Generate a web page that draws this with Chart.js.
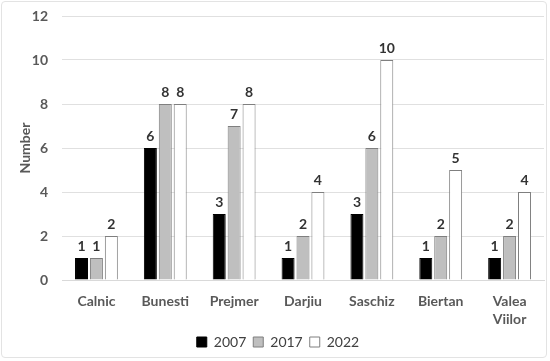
<!DOCTYPE html>
<html><head><meta charset="utf-8">
<script src="https://cdn.jsdelivr.net/npm/chart.js@4"></script>
<style>
html,body{margin:0;padding:0;background:#fff;}
#wrap{position:absolute;left:1px;top:1px;width:546px;height:357px;border:1px solid #e3e3e3;border-radius:4px;box-sizing:border-box;}
canvas{display:block;}
</style></head><body>
<div id="wrap"><canvas id="c" width="546" height="357"></canvas></div>
<script>
const categories = ["Calnic","Bunesti","Prejmer","Darjiu","Saschiz","Biertan",["Valea","Viilor"]];
const seriesNames = ["2007","2017","2022"];
const values2007 = [1,6,3,1,3,1,1];
const values2017 = [1,8,7,2,6,2,2];
const values2022 = [2,8,8,4,10,5,4];
const yTicks = [0,2,4,6,8,10,12];
const FONT = 'Lato, "Open Sans", sans-serif';

const labelPlugin = {
  id:'valLabels',
  afterDatasetsDraw(chart){
    const ctx = chart.ctx;
    ctx.save();
    ctx.font = 'bold 14px ' + FONT;
    ctx.fillStyle = '#333333';
    ctx.textAlign = 'center';
    ctx.textBaseline = 'bottom';
    chart.data.datasets.forEach((ds,i)=>{
      chart.getDatasetMeta(i).data.forEach((bar,j)=>{
        ctx.fillText(String(ds.data[j]), bar.x, bar.y - 5);
      });
    });
    ctx.restore();
  }
};

new Chart(document.getElementById('c'),{
  type:'bar',
  data:{
    labels:categories,
    datasets:[
      {label:seriesNames[0],data:values2007,backgroundColor:'#000000',borderColor:'#000000',borderWidth:1},
      {label:seriesNames[1],data:values2017,backgroundColor:'#bfbfbf',borderColor:'#7f7f7f',borderWidth:1},
      {label:seriesNames[2],data:values2022,backgroundColor:'#ffffff',borderColor:'#7f7f7f',borderWidth:1}
    ]
  },
  options:{
    responsive:false,
    animation:false,
    devicePixelRatio:1,
    layout:{padding:{top:0,right:4,left:10,bottom:0}},
    datasets:{bar:{categoryPercentage:0.65,barPercentage:0.87}},
    plugins:{
      legend:{position:'bottom',labels:{boxWidth:10,boxHeight:10,color:'#404040',font:{size:14,family:FONT},padding:7}},
      tooltip:{enabled:false}
    },
    scales:{
      x:{
        grid:{display:false},
        border:{color:'#d9d9d9'},
        afterFit(s){s.height = 48;},
        ticks:{color:'#595959',font:{size:14,weight:'bold',family:FONT,lineHeight:1.3},maxRotation:0,autoSkip:false,padding:4}
      },
      y:{
        min:0,max:12,
        afterBuildTicks(s){s.ticks = yTicks.map(v=>({value:v}));},
        afterFit(s){s.width = 50; s.paddingTop = 14;},
        grid:{color:'#e0e0e0',drawTicks:false},
        border:{display:false},
        ticks:{color:'#595959',font:{size:14,weight:'bold',family:FONT},padding:14},
        title:{display:true,text:'Number',color:'#595959',font:{size:14,weight:'bold',family:FONT},padding:{top:5,bottom:0}}
      }
    }
  },
  plugins:[labelPlugin]
});
</script>
</body></html>
